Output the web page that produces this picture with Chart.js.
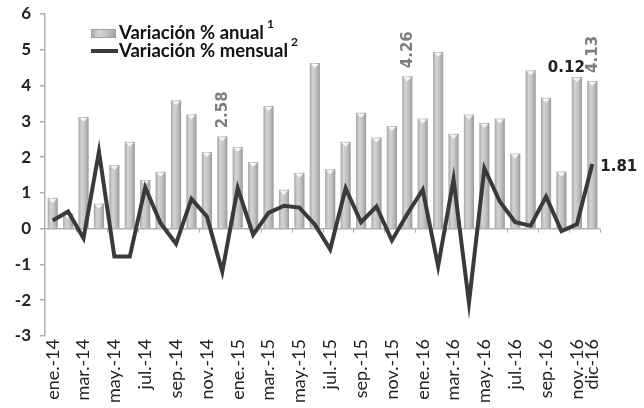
<!DOCTYPE html>
<html>
<head>
<meta charset="utf-8">
<script src="https://cdn.jsdelivr.net/npm/chart.js@4/dist/chart.umd.min.js"></script>
<style>
  html, body { margin: 0; padding: 0; background: #fff; }
  #wrap { width: 644px; height: 408px; position: relative; }
</style>
</head>
<body>
<div id="wrap"><canvas id="grafico"></canvas></div>
<script>
// meses (eje x)
const meses = [
  "ene.-14", "feb.-14", "mar.-14", "abr.-14", "may.-14", "jun.-14",
  "jul.-14", "ago.-14", "sep.-14", "oct.-14", "nov.-14", "dic.-14",
  "ene.-15", "feb.-15", "mar.-15", "abr.-15", "may.-15", "jun.-15",
  "jul.-15", "ago.-15", "sep.-15", "oct.-15", "nov.-15", "dic.-15",
  "ene.-16", "feb.-16", "mar.-16", "abr.-16", "may.-16", "jun.-16",
  "jul.-16", "ago.-16", "sep.-16", "oct.-16", "nov.-16", "dic-16"
];

// variación % anual (barras)
const anual = [
  0.86, 0.42, 3.12, 0.70, 1.78, 2.43, 1.36, 1.59, 3.59, 3.20, 2.14, 2.58,
  2.28, 1.86, 3.43, 1.09, 1.56, 4.63, 1.66, 2.43, 3.24, 2.55, 2.87, 4.26,
  3.08, 4.94, 2.65, 3.19, 2.95, 3.08, 2.10, 4.43, 3.66, 1.60, 4.24, 4.13
];

// variación % mensual (línea)
const mensual = [
  0.23, 0.48, -0.27, 2.15, -0.78, -0.78, 1.15, 0.15, -0.42, 0.83, 0.34, -1.20,
  1.13, -0.17, 0.44, 0.64, 0.59, 0.12, -0.58, 1.13, 0.18, 0.62, -0.33, 0.41,
  1.09, -1.05, 1.38, -2.07, 1.69, 0.76, 0.18, 0.08, 0.90, -0.07, 0.12, 1.81
];

const ticksY = [-3, -2, -1, 0, 1, 2, 3, 4, 5, 6];

// etiquetas de datos que se muestran
const etiquetasAnual = [11, 23, 35];
const etiquetasMensual = [34, 35];

const leyenda = [
  { texto: "Variación % anual", sup: "1" },
  { texto: "Variación % mensual", sup: "2" }
];

function degradado(c, x, w) {
  const g = c.createLinearGradient(x - w, 0, x + w, 0);
  g.addColorStop(0, "#a6a6a6");
  g.addColorStop(0.3, "#d4d4d4");
  g.addColorStop(0.65, "#c0c0c0");
  g.addColorStop(1, "#9a9a9a");
  return g;
}

const pluginExtra = {
  id: "extra",
  afterDatasetDraw(chart, args) {
    if (args.meta.type !== "bar") return;
    const c = chart.ctx;
    c.save();
    // tapa clara arriba de cada barra
    args.meta.data.forEach(b => {
      c.fillStyle = "rgba(250,250,250,0.9)";
      c.beginPath();
      c.moveTo(b.x - 4, b.y + 1);
      c.lineTo(b.x + 4, b.y + 1);
      c.lineTo(b.x, b.y + 5);
      c.closePath();
      c.fill();
    });
    // marcas del eje x sobre el cero
    const xs = chart.scales.x, y0 = chart.scales.y.getPixelForValue(0);
    c.strokeStyle = "#b0b0b0";
    c.lineWidth = 1;
    for (let i = 1; i < meses.length; i += 2) {
      const x = Math.round((xs.getPixelForValue(i) + xs.getPixelForValue(i + 1)) / 2) + 0.5;
      c.beginPath();
      c.moveTo(x, y0);
      c.lineTo(x, y0 + 4);
      c.stroke();
    }
    c.restore();
  },
  afterDraw(chart) {
    const c = chart.ctx;
    const barras = chart.getDatasetMeta(0).data;
    const puntos = chart.getDatasetMeta(1).data;
    c.save();

    // valores anuales (verticales)
    c.font = "bold 15px 'DejaVu Sans'";
    c.fillStyle = "#7d7d7d";
    c.textAlign = "left";
    c.textBaseline = "middle";
    etiquetasAnual.forEach(i => {
      const b = barras[i];
      c.save();
      c.translate(b.x + 1, b.y - 8);
      c.rotate(-Math.PI / 2);
      c.fillText(anual[i].toFixed(2), 0, 0);
      c.restore();
    });

    // valores mensuales
    c.font = "bold 15px 'DejaVu Sans'";
    c.fillStyle = "#222";
    const bn = barras[etiquetasMensual[0]];
    c.textAlign = "right";
    c.textBaseline = "alphabetic";
    c.fillText(mensual[etiquetasMensual[0]].toFixed(2), bn.x + 8, bn.y - 5);
    const p1 = puntos[etiquetasMensual[1]];
    c.textAlign = "left";
    c.textBaseline = "middle";
    c.fillText(mensual[etiquetasMensual[1]].toFixed(2), p1.x + 8, p1.y + 3);

    // leyenda
    const lx = 91, ly = [33, 51];
    c.fillStyle = degradado(c, lx + 13, 13);
    c.fillRect(lx, ly[0] - 4, 25, 9);
    c.strokeStyle = "#a0a0a0";
    c.lineWidth = 1;
    c.strokeRect(lx + 0.5, ly[0] - 3.5, 24, 8);
    c.strokeStyle = "#3a3a3a";
    c.lineWidth = 4;
    c.beginPath();
    c.moveTo(lx, ly[1]);
    c.lineTo(lx + 27, ly[1]);
    c.stroke();

    c.fillStyle = "#111";
    c.textAlign = "left";
    c.textBaseline = "middle";
    leyenda.forEach((l, k) => {
      c.font = "bold 18.5px Lato";
      c.fillText(l.texto, lx + 28, ly[k]);
      const w = c.measureText(l.texto).width;
      c.font = "bold 12px Lato";
      c.fillText(l.sup, lx + 28 + w + 3, ly[k] - 9);
    });

    c.restore();
  }
};

new Chart(document.getElementById("grafico"), {
  type: "bar",
  data: {
    labels: meses,
    datasets: [
      {
        label: leyenda[0].texto,
        data: anual,
        order: 2,
        backgroundColor: ctx => {
          const xs = ctx.chart.scales.x;
          if (!xs || ctx.type !== "data") return "#b8b8b8";
          const x = xs.getPixelForValue(ctx.dataIndex);
          if (!isFinite(x)) return "#b8b8b8";
          return degradado(ctx.chart.ctx, x, 5);
        },
        borderWidth: 0,
        categoryPercentage: 1,
        barPercentage: 0.66
      },
      {
        type: "line",
        label: leyenda[1].texto,
        data: mensual,
        order: 1,
        borderColor: "#3a3a3a",
        borderWidth: 4,
        pointRadius: 0,
        tension: 0,
        fill: false
      }
    ]
  },
  options: {
    responsive: true,
    maintainAspectRatio: false,
    animation: false,
    layout: { padding: { top: 14, right: 44, left: 0, bottom: 0 } },
    plugins: {
      legend: { display: false },
      tooltip: { enabled: false }
    },
    scales: {
      x: {
        grid: { display: false, drawTicks: false },
        border: { display: false },
        ticks: {
          autoSkip: false,
          minRotation: 90,
          maxRotation: 90,
          padding: 3,
          color: "#222",
          font: { family: "Lato", size: 18 },
          callback: (v, i) => (i % 2 === 0 || i === meses.length - 1) ? meses[i] : ""
        },
        afterFit: s => { s.height = 72; s.paddingLeft = 0; s.paddingRight = 0; }
      },
      y: {
        min: ticksY[0],
        max: ticksY[ticksY.length - 1],
        afterBuildTicks: s => { s.ticks = ticksY.map(v => ({ value: v })); },
        grid: {
          color: ctx => (ctx.tick && ctx.tick.value === 0) ? "#b0b0b0" : "rgba(0,0,0,0)",
          tickColor: "#b0b0b0",
          tickLength: 5,
          lineWidth: 1.5
        },
        border: { display: true, color: "#b0b0b0", width: 1.5 },
        ticks: {
          padding: 9,
          color: "#222",
          font: { family: "Lato", size: 17, weight: "bold" }
        },
        afterFit: s => { s.width = 45; s.paddingTop = 0; s.paddingBottom = 0; }
      }
    }
  },
  plugins: [pluginExtra]
});
</script>
</body>
</html>
